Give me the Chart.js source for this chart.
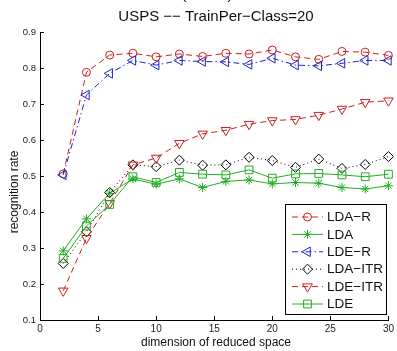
<!DOCTYPE html>
<html>
<head>
<meta charset="utf-8">
<script src="https://cdn.jsdelivr.net/npm/chart.js@4/dist/chart.umd.min.js"></script>
<style>
  html, body { margin: 0; padding: 0; background: #fff; }
  #wrap { width: 397px; height: 351px; }
</style>
</head>
<body>
<div id="wrap"><canvas id="rate-chart" width="397" height="351"></canvas></div>
<script>
// reduced dimension on the x axis
const dims = [2, 4, 6, 8, 10, 12, 14, 16, 18, 20, 22, 24, 26, 28, 30];

// recognition rates for each method
const ldaR   = [0.506, 0.788, 0.836, 0.841, 0.831, 0.839, 0.832, 0.841, 0.839, 0.850, 0.831, 0.824, 0.846, 0.844, 0.835];
const lda    = [0.292, 0.381, 0.452, 0.492, 0.477, 0.492, 0.468, 0.485, 0.489, 0.478, 0.482, 0.480, 0.468, 0.464, 0.473];
const ldeR   = [0.503, 0.725, 0.785, 0.821, 0.808, 0.821, 0.818, 0.817, 0.810, 0.827, 0.808, 0.806, 0.813, 0.821, 0.821];
const ldaItr = [0.257, 0.345, 0.454, 0.531, 0.526, 0.544, 0.530, 0.531, 0.552, 0.543, 0.524, 0.547, 0.521, 0.532, 0.554];
const ldeItr = [0.181, 0.327, 0.424, 0.531, 0.550, 0.591, 0.617, 0.627, 0.644, 0.654, 0.657, 0.669, 0.686, 0.705, 0.709];
const lde    = [0.271, 0.361, 0.421, 0.498, 0.482, 0.510, 0.505, 0.503, 0.517, 0.494, 0.506, 0.507, 0.503, 0.498, 0.505];

const xTicks = [0, 5, 10, 15, 20, 25, 30];
const yTicks = [0.1, 0.2, 0.3, 0.4, 0.5, 0.6, 0.7, 0.8, 0.9];

const RED = 'rgb(200, 32, 32)';
const BLUE = 'rgb(30, 36, 200)';
const GREEN = 'rgb(34, 172, 34)';
const BLACK = 'rgb(0, 0, 0)';
const FONT = '"Liberation Sans", Arial, Helvetica, sans-serif';

const DASH = [6, 4];
const DASH_DOT = [6, 3, 1.5, 3];
const DOT = [1, 3];

function series(label, values, color, dash, pointStyle, radius, rotation) {
    return {
        label: label,
        data: dims.map((d, i) => ({x: d, y: values[i]})),
        borderColor: color,
        borderWidth: 1,
        borderDash: dash,
        pointStyle: pointStyle,
        pointRadius: radius,
        pointRotation: rotation || 0,
        pointBorderColor: color,
        pointBackgroundColor: 'rgba(0,0,0,0)',
        pointBorderWidth: 1,
        tension: 0,
        clip: false
    };
}

const datasets = [
    series('LDA\u2212R',   ldaR,   RED,   DASH,     'circle',   4),
    series('LDA',          lda,    GREEN, [],       'star',     4.5),
    series('LDE\u2212R',   ldeR,   BLUE,  DASH_DOT, 'triangle', 5.5, -90),
    series('LDA\u2212ITR', ldaItr, BLACK, DOT,      'rectRot',  5),
    series('LDE\u2212ITR', ldeItr, RED,   DASH,     'triangle', 5.5, 180),
    series('LDE',          lde,    GREEN, [],       'rect',     5.5)
];
// later series drawn on top
datasets.forEach((ds, i) => ds.order = datasets.length - i);

// inward tick marks, titles and the boxed legend
const decorations = {
    id: 'decorations',
    afterDraw(chart) {
        const ctx = chart.ctx;
        const area = chart.chartArea;
        const xs = chart.scales.x;
        const ys = chart.scales.y;

        ctx.save();
        ctx.strokeStyle = '#000';
        ctx.lineWidth = 1;
        ctx.setLineDash([]);
        ctx.beginPath();
        xTicks.forEach(v => {
            const px = Math.round(xs.getPixelForValue(v)) + 0.5;
            ctx.moveTo(px, area.bottom);
            ctx.lineTo(px, area.bottom - 4);
        });
        yTicks.forEach(v => {
            const py = Math.round(ys.getPixelForValue(v)) + 0.5;
            ctx.moveTo(area.left, py);
            ctx.lineTo(area.left + 4, py);
        });
        ctx.stroke();

        // titles
        ctx.fillStyle = '#111';
        ctx.textAlign = 'center';
        ctx.font = '15px ' + FONT;
        ctx.textBaseline = 'alphabetic';
        ctx.fillText('(USPS)', 207, -1.5);
        ctx.textBaseline = 'middle';
        ctx.fillText('USPS \u2212\u2212 TrainPer\u2212Class=20', 216, 17);
        ctx.font = '12px ' + FONT;
        ctx.fillText('dimension of reduced space', 216, 343);
        ctx.save();
        ctx.translate(15, 192);
        ctx.rotate(-Math.PI / 2);
        ctx.fillText('recognition rate', 0, 0);
        ctx.restore();

        // legend box
        const box = {left: 285.5, top: 204.5, right: 386.5, bottom: 314.5};
        ctx.fillStyle = '#fff';
        ctx.fillRect(box.left, box.top, box.right - box.left, box.bottom - box.top);
        ctx.strokeStyle = '#000';
        ctx.strokeRect(box.left, box.top, box.right - box.left, box.bottom - box.top);

        ctx.font = '13.5px ' + FONT;
        ctx.textAlign = 'left';
        chart.data.datasets.forEach((ds, i) => {
            const y = 217 + i * 17.4;
            ctx.strokeStyle = ds.borderColor;
            ctx.lineWidth = 1;
            ctx.setLineDash(ds.borderDash);
            ctx.beginPath();
            ctx.moveTo(292, y);
            ctx.lineTo(323, y);
            ctx.stroke();
            ctx.setLineDash([]);
            ctx.strokeStyle = ds.pointBorderColor;
            ctx.fillStyle = 'rgba(0,0,0,0)';
            Chart.helpers.drawPoint(ctx, {
                pointStyle: ds.pointStyle,
                rotation: ds.pointRotation,
                radius: ds.pointRadius,
                borderWidth: 1
            }, 307.5, y);
            ctx.fillStyle = '#111';
            ctx.fillText(ds.label, 327, y + 0.5);
        });
        ctx.restore();
    }
};

new Chart(document.querySelector('#rate-chart').getContext('2d'), {
    type: 'line',
    data: {datasets: datasets},
    options: {
        responsive: false,
        animation: false,
        events: [],
        layout: {padding: {left: 0, right: 5.5, top: 32, bottom: 0}},
        plugins: {legend: {display: false}, tooltip: {enabled: false}},
        scales: {
            x: {
                type: 'linear',
                min: 0,
                max: 30,
                afterFit: scale => { scale.height = 31; },
                afterBuildTicks: scale => { scale.ticks = xTicks.map(v => ({value: v})); },
                ticks: {
                    color: '#222',
                    font: {family: FONT, size: 10},
                    padding: 3,
                    maxRotation: 0,
                    autoSkip: false
                },
                grid: {display: true, drawOnChartArea: false, drawTicks: false},
                border: {display: true, color: '#000', width: 1}
            },
            y: {
                type: 'linear',
                min: 0.1,
                max: 0.9,
                afterFit: scale => { scale.width = 40; },
                afterBuildTicks: scale => { scale.ticks = yTicks.map(v => ({value: v})); },
                ticks: {
                    color: '#222',
                    font: {family: FONT, size: 9.5},
                    padding: 4,
                    callback: v => v.toFixed(1),
                    autoSkip: false
                },
                grid: {display: true, drawOnChartArea: false, drawTicks: false},
                border: {display: true, color: '#000', width: 1}
            }
        }
    },
    plugins: [decorations]
});
</script>
</body>
</html>
